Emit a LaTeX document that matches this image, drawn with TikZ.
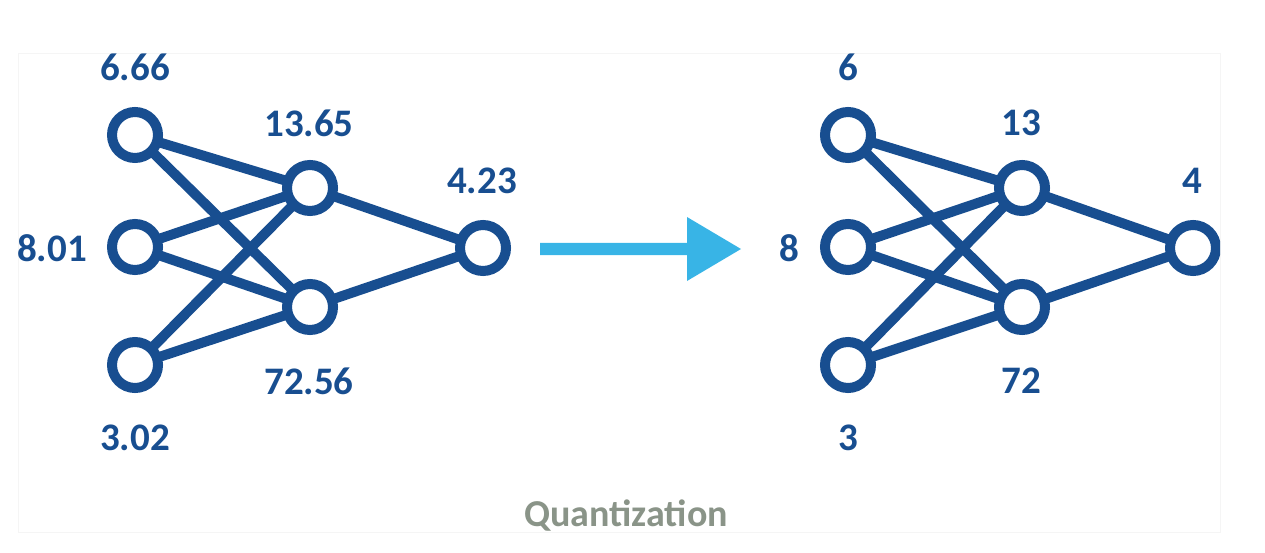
\documentclass[tikz,border=0pt]{standalone}
\usepackage{fontspec}
\setmainfont{Carlito}
\usetikzlibrary{backgrounds}
\definecolor{netblue}{RGB}{24,78,144}
\definecolor{arrcyan}{RGB}{56,180,230}
\definecolor{qgray}{RGB}{138,148,136}
\tikzset{
  neuron/.style={circle,draw=netblue,line width=10pt,fill=white,minimum size=46pt,inner sep=0pt},
  link/.style={draw=netblue,line width=10pt},
  val/.style={text=netblue,font=\fontsize{39}{42}\selectfont\bfseries,inner sep=0pt,anchor=center},
}
\begin{document}
\begin{tikzpicture}[x=1pt,y=-1pt]
\useasboundingbox (0,0) rectangle (1265,553);
\draw[black!4,line width=1pt] (18,54) rectangle (1220,532);
% left network
\node[neuron] (a1) at (135,135) {};
\node[neuron] (a2) at (135,247) {};
\node[neuron] (a3) at (135,365) {};
\node[neuron] (h1) at (310,188) {};
\node[neuron] (h2) at (310,307) {};
\node[neuron] (o1) at (483,248) {};
% right network
\node[neuron] (b1) at (848,135) {};
\node[neuron] (b2) at (848,247) {};
\node[neuron] (b3) at (848,365) {};
\node[neuron] (g1) at (1022,188) {};
\node[neuron] (g2) at (1022,307) {};
\begin{scope}
\clip (0,0) rectangle (1220,553);
\node[neuron] (o2) at (1193,248) {};
\end{scope}
\begin{pgfonlayer}{background}
\foreach \s in {a1,a2,a3}{\foreach \t in {h1,h2}{\draw[link] (\s.center) -- (\t.center);}}
\draw[link] (h1.center) -- (o1.center);
\draw[link] (h2.center) -- (o1.center);
\foreach \s in {b1,b2,b3}{\foreach \t in {g1,g2}{\draw[link] (\s.center) -- (\t.center);}}
\draw[link] (g1.center) -- (o2.center);
\draw[link] (g2.center) -- (o2.center);
\end{pgfonlayer}
% labels left
\node[val] (la1) at (135,67) {6.66};
\node[val] (la2) at (52,248) {8.01};
\node[val] (la3) at (135,438) {3.02};
\node[val] (lh1) at (309,123) {13.65};
\node[val] (lh2) at (309,381) {72.56};
\node[val] (lo1) at (482,181) {4.23};
% labels right
\node[val] (lb1) at (848,67) {6};
\node[val] (lb2) at (789,248) {8};
\node[val] (lb3) at (848,438) {3};
\node[val] (lg1) at (1021,123) {13};
\node[val] (lg2) at (1021,381) {72};
\node[val] (lo2) at (1192,181) {4};
% arrow
\fill[arrcyan] (540,243) -- (687,243) -- (687,217) -- (741,249) -- (687,281) -- (687,255) -- (540,255) -- cycle;
% caption
\node[text=qgray,font=\fontsize{38}{42}\selectfont\bfseries,inner sep=0pt] (cap) at (626,516) {Quantization};
\end{tikzpicture}
\end{document}
